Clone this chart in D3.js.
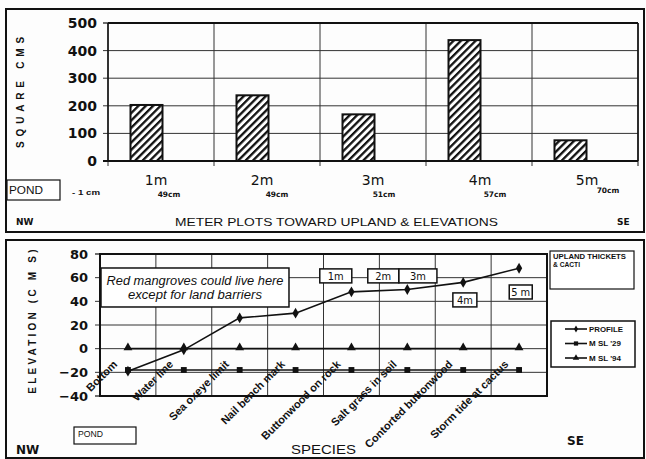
<!DOCTYPE html>
<html><head><meta charset="utf-8">
<script src="https://cdn.jsdelivr.net/npm/d3@7"></script>
<style>
body{margin:0;background:#fff}
svg{display:block}
text{font-family:"Liberation Sans",Arial,sans-serif;fill:#111}
</style>
</head><body>
<svg id="c" width="646" height="459"></svg>
<script>
// ---- data: top chart (meter plots) ----
const plots = ["1m", "2m", "3m", "4m", "5m"];
const plotArea = [203, 238, 169, 438, 75];
const plotElev = ["49cm", "49cm", "51cm", "57cm", "70cm"];
const areaTicks = [0, 100, 200, 300, 400, 500];

// ---- data: bottom chart (profile) ----
const species = ["Bottom", "Water line", "Sea oxeye limit", "Nail bench mark",
  "Buttonwood on rock", "Salt grass in soil", "Contorted buttonwood", "Storm tide at cactus"];
const profile = [-19, -1, 26, 30, 48, 50, 56, 68];
const msl29 = [-18, -18, -18, -18, -18, -18, -18, -18];
const msl94 = [0, 0, 0, 0, 0, 0, 0, 0];
const elevTicks = [-40, -20, 0, 20, 40, 60, 80];
const seriesNames = ["PROFILE", "M SL '29", "M SL '94"];
const plotTags = ["1m", "2m", "3m", "4m", "5 m"];

// ---- layout (positions, not data) ----
const tagLayout = [
  {i: 3.72, e: 61.5, w: 32}, {i: 4.57, e: 61.5, w: 31}, {i: 5.19, e: 61.5, w: 38},
  {i: 6.03, e: 41.2, w: 24}, {i: 7.03, e: 47.9, w: 23}
];
const ink = "#111";
const svg = d3.select("#c");
svg.append("rect").attr("width", 646).attr("height", 459).attr("fill", "#fdfdfd");

const defs = svg.append("defs");
const pat = defs.append("pattern").attr("id", "hatch").attr("patternUnits", "userSpaceOnUse")
  .attr("width", 5.2).attr("height", 5.2).attr("patternTransform", "rotate(45)");
pat.append("rect").attr("width", 5.2).attr("height", 5.2).attr("fill", "#fff");
pat.append("rect").attr("width", 2.3).attr("height", 5.2).attr("fill", ink);

function T(g, x, y, s, o) {
  const t = g.append("text").attr("x", x).attr("y", y).text(s);
  o = o || {};
  if (o.size) t.style("font-size", o.size + "px");
  if (o.bold) t.style("font-weight", "bold");
  if (o.italic) t.style("font-style", "italic");
  if (o.font) t.style("font-family", o.font);
  if (o.anchor) t.attr("text-anchor", o.anchor);
  if (o.len) t.attr("textLength", o.len).attr("lengthAdjust", "spacingAndGlyphs");
  if (o.ls) t.style("letter-spacing", o.ls + "px");
  if (o.tr) t.attr("transform", o.tr);
  return t;
}
function seg(g, x1, y1, x2, y2, w, c) {
  return g.append("line").attr("x1", x1).attr("y1", y1).attr("x2", x2).attr("y2", y2)
    .attr("stroke", c || ink).attr("stroke-width", w || 1);
}
function box(g, x, y, w, h, sw) {
  return g.append("rect").attr("x", x).attr("y", y).attr("width", w).attr("height", h)
    .attr("fill", "#fff").attr("stroke", ink).attr("stroke-width", sw || 1.5);
}

// outer frames
svg.append("rect").attr("x", 6).attr("y", 9).attr("width", 638).attr("height", 223)
  .attr("fill", "none").attr("stroke", ink).attr("stroke-width", 2);
svg.append("rect").attr("x", 6).attr("y", 240).attr("width", 638).attr("height", 218)
  .attr("fill", "none").attr("stroke", ink).attr("stroke-width", 2);

// ================= TOP CHART =================
const topG = svg.append("g");
const xT = d3.scaleBand().domain(plots).range([108, 638]);
const yT = d3.scaleLinear().domain([0, 500]).range([161, 23]);

areaTicks.slice(1, -1).forEach(v => seg(topG, 103, yT(v), 638, yT(v), 1, "#333"));
plots.forEach(p => seg(topG, xT(p), yT(500), xT(p), yT(0) + 5, 1, "#333"));
seg(topG, 638, yT(500), 638, yT(0) + 5, 1.2, "#333");
seg(topG, 108, yT(500), 638, yT(500), 2);
seg(topG, 638, yT(500), 638, yT(0), 1.5);
seg(topG, 103, yT(0), 638, yT(0), 2);
seg(topG, 108, yT(500), 108, yT(0), 1.5);
seg(topG, 103, yT(500), 108, yT(500), 1.2);

const axT = d3.axisLeft(yT).tickValues(areaTicks).tickSize(0).tickPadding(11);
const gT = topG.append("g").attr("transform", "translate(108,0)").call(axT);
gT.select(".domain").remove();
gT.selectAll("text").style("font-family", "DejaVu Sans").style("font-weight", "bold")
  .style("font-size", "14px").attr("fill", ink);

topG.selectAll("rect.bar").data(plots).join("rect").attr("class", "bar")
  .attr("x", p => xT(p) + 22.5).attr("width", 32)
  .attr("y", (p, i) => yT(plotArea[i])).attr("height", (p, i) => yT(0) - yT(plotArea[i]))
  .attr("fill", "url(#hatch)").attr("stroke", ink).attr("stroke-width", 2);

const lblDx = [-5, -5, 0, 1, 2];
const subDx = [8, 10, 11, 16, 23];
const subY = [197, 197, 197, 197, 193];
plots.forEach((p, i) => {
  const c = xT(p) + xT.bandwidth() / 2;
  T(topG, c + lblDx[i], 185, p, {size: 14, font: "DejaVu Sans", anchor: "middle"});
  T(topG, c + subDx[i], subY[i], plotElev[i], {size: 7.5, bold: true, font: "DejaVu Sans", anchor: "middle"});
});

box(topG, 7, 180, 53, 20, 1.2);
T(topG, 9, 194, "POND", {size: 11, len: 34});
T(topG, 72, 195, "- 1 cm", {size: 8, bold: true, len: 28});
T(topG, 16, 225, "NW", {size: 9, bold: true, font: "DejaVu Sans"});
T(topG, 617, 225, "SE", {size: 9, bold: true, font: "DejaVu Sans"});
T(topG, 175, 226, "METER PLOTS TOWARD UPLAND & ELEVATIONS", {size: 11.5, len: 323});
T(topG, 0, 0, "SQUARE CMS", {size: 10, bold: true, ls: 4.8, anchor: "middle",
  tr: "translate(24,90) rotate(-90)"});

// ================= BOTTOM CHART =================
const botG = svg.append("g");
const xB = d3.scaleBand().domain(species).range([100, 547]);
const xI = d3.scaleLinear().domain([-0.5, species.length - 0.5]).range([100, 547]);
const yB = d3.scaleLinear().domain([-40, 80]).range([396, 254]);
const cx = s => xB(s) + xB.bandwidth() / 2;

elevTicks.slice(1, -1).forEach(v => seg(botG, 95, yB(v), 547, yB(v), 1, "#333"));
species.slice(1).forEach(s => seg(botG, xB(s), yB(80), xB(s), yB(-40), 1, "#333"));
botG.append("rect").attr("x", 100).attr("y", yB(80)).attr("width", 447).attr("height", yB(-40) - yB(80))
  .attr("fill", "none").attr("stroke", ink).attr("stroke-width", 2);
[80, -40].forEach(v => seg(botG, 95, yB(v), 100, yB(v), 1.2));

const axB = d3.axisLeft(yB).tickValues(elevTicks).tickSize(0).tickPadding(12);
const gB = botG.append("g").attr("transform", "translate(100,0)").call(axB);
gB.select(".domain").remove();
gB.selectAll("text").style("font-family", "DejaVu Sans").style("font-weight", "bold")
  .style("font-size", "13px").attr("fill", ink);

// series lines
const lg = d3.line().x((d, i) => cx(species[i])).y(d => yB(d));
[msl94, msl29, profile].forEach(arr => {
  botG.append("path").attr("d", lg(arr)).attr("fill", "none").attr("stroke", ink).attr("stroke-width", 1.6);
});
const tri = d3.symbol().type(d3.symbolTriangle).size(34);
const sq = d3.symbol().type(d3.symbolSquare).size(34);
const dia = d3.symbol().type(d3.symbolDiamond).size(34);
msl94.forEach((v, i) => botG.append("path").attr("d", tri()).attr("fill", ink)
  .attr("transform", `translate(${cx(species[i])},${yB(v) - 1})`));
msl29.forEach((v, i) => botG.append("path").attr("d", sq()).attr("fill", ink)
  .attr("transform", `translate(${cx(species[i])},${yB(v)})`));
profile.forEach((v, i) => botG.append("path").attr("d", dia()).attr("fill", ink)
  .attr("transform", `translate(${cx(species[i])},${yB(v)})`));

// category labels (rotated)
species.forEach(s => {
  T(botG, 0, 0, s, {size: 11, bold: true, anchor: "end",
    tr: `translate(${cx(s) - 10},365) rotate(-45)`});
});

// annotation: red mangroves
const nx = xI(1.2), ny = yB(51.7);
box(botG, nx - 94, ny - 19.5, 188, 39, 1.5);
T(botG, nx, ny - 2.5, "Red mangroves could live here", {size: 12.5, italic: true, anchor: "middle", len: 177});
T(botG, nx, ny + 11.5, "except for land barriers", {size: 12.5, italic: true, anchor: "middle", len: 134});

// plot tags
plotTags.forEach((t, k) => {
  const L = tagLayout[k];
  const x = xI(L.i), y = yB(L.e);
  box(botG, x - L.w / 2, y - 7, L.w, 14, 1.5);
  T(botG, x, y + 4, t, {size: 11, anchor: "middle", font: "DejaVu Sans Condensed, DejaVu Sans"});
});

// upland box
box(botG, 550, 251, 84, 38, 1.2);
T(botG, 553, 259, "UPLAND THICKETS", {size: 7.5, bold: true, len: 73});
T(botG, 553, 266.5, "& CACTI", {size: 7.5, bold: true, len: 27});

// legend
box(botG, 551, 321, 84, 46, 1.5);
seriesNames.forEach((n, k) => {
  const y = 329 + k * 14.5;
  seg(botG, 565, y, 587, y, 1.6);
  botG.append("path").attr("d", d3.symbol().type([d3.symbolDiamond, d3.symbolSquare, d3.symbolTriangle][k]).size(k === 0 ? 14 : 18)())
    .attr("fill", ink).attr("transform", `translate(576,${y})`);
  T(botG, 589, y + 2.7, n, {size: 7.5, bold: true, len: k === 0 ? 34 : 32});
});

// titles and corners
T(botG, 0, 0, "ELEVATION (C M S)", {size: 10, bold: true, ls: 3.2, anchor: "middle",
  tr: "translate(36,320) rotate(-90)"});
T(botG, 291, 454, "SPECIES", {size: 12, len: 65});
box(botG, 74, 427, 62, 17, 1.2);
T(botG, 78, 436.5, "POND", {size: 8.5, len: 25});
T(botG, 16, 454, "NW", {size: 12, bold: true, font: "DejaVu Sans"});
T(botG, 567, 445, "SE", {size: 12, bold: true, font: "DejaVu Sans"});
</script>
</body></html>
